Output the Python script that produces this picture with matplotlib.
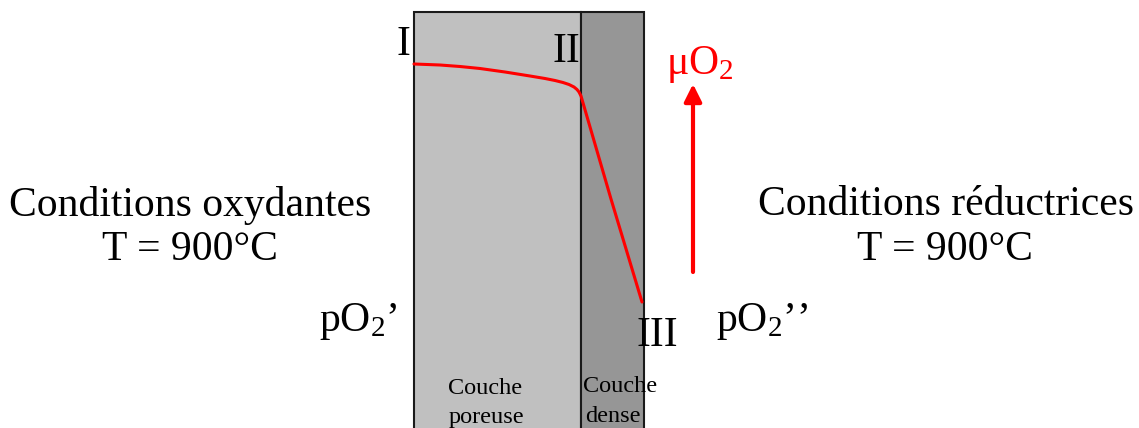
import matplotlib
matplotlib.use("Agg")
import matplotlib.pyplot as plt
from matplotlib.patches import Rectangle, FancyArrowPatch

plt.rcParams['font.family'] = ['Liberation Serif', 'DejaVu Serif']
plt.rcParams['mathtext.fontset'] = 'custom'
plt.rcParams['mathtext.rm'] = 'Liberation Serif'
plt.rcParams['mathtext.it'] = 'Liberation Serif:italic'

# Layer boundaries (diagram units, ~pixels)
porous_x = [414, 581]
dense_x = [581, 644]
layer_top, layer_bottom = 12, 428

# Chemical potential profile through the layers
curve_x = [414, 440, 460, 480, 505, 530, 545, 555, 563, 569, 574, 577, 579, 581, 611, 642]
curve_y = [64, 65, 66.5, 68.5, 72, 76, 78.5, 80.5, 82.5, 84.5, 87, 89.5, 92, 96, 199, 302]

labels_left = ["Conditions oxydantes", "T = 900°C"]
labels_right = ["Conditions réductrices", "T = 900°C"]

fig = plt.figure(figsize=(11.39, 4.28), dpi=100)
ax = fig.add_axes([0, 0, 1, 1])
ax.set_xlim(0, 1139)
ax.set_ylim(428, 0)
ax.axis('off')

ax.add_patch(Rectangle((porous_x[0], layer_top), porous_x[1] - porous_x[0],
                       layer_bottom - layer_top + 5, facecolor='#c0c0c0',
                       edgecolor='#1a1a1a', lw=1.5))
ax.add_patch(Rectangle((dense_x[0], layer_top), dense_x[1] - dense_x[0],
                       layer_bottom - layer_top + 5, facecolor='#969696',
                       edgecolor='#1a1a1a', lw=1.5))

ax.plot(curve_x, curve_y, color='red', lw=2.2, solid_capstyle='round',
        solid_joinstyle='round')

arrow = FancyArrowPatch((693, 272), (693, 84), arrowstyle='-|>', mutation_scale=26,
                        color='red', lw=3, shrinkA=0, shrinkB=0)
ax.add_patch(arrow)

fs = 30
ax.text(190, 205, labels_left[0], fontsize=fs, ha='center', va='center')
ax.text(190, 250, labels_left[1], fontsize=fs, ha='center', va='center')
ax.text(946, 205, labels_right[0], fontsize=fs, ha='center', va='center')
ax.text(945, 250, labels_right[1], fontsize=fs, ha='center', va='center')

ax.text(403, 45, "I", fontsize=fs, ha='center', va='center')
ax.text(566, 52, "II", fontsize=fs, ha='center', va='center')
ax.text(657, 336, "III", fontsize=fs, ha='center', va='center')
ax.text(700, 64, "μO$_2$", fontsize=fs, color='red', ha='center', va='center')
ax.text(358, 322, "pO$_2$’", fontsize=fs, ha='center', va='center')
ax.text(762, 322, "pO$_2$’’", fontsize=fs, ha='center', va='center')

sfs = 17.5
ax.text(485, 389, "Couche", fontsize=sfs, ha='center', va='center')
ax.text(486, 417, "poreuse", fontsize=sfs, ha='center', va='center')
ax.text(583, 387, "Couche", fontsize=sfs, ha='left', va='center')
ax.text(585, 416, "dense", fontsize=sfs, ha='left', va='center')

fig.savefig("out.png", dpi=100)
